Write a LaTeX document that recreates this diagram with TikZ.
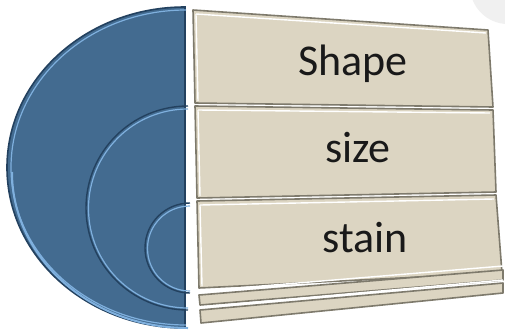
\documentclass[tikz,border=0pt]{standalone}
\usepackage{fontspec}
\setmainfont{Carlito}
\definecolor{discblue}{HTML}{436B90}
\definecolor{discdark}{HTML}{23415F}
\definecolor{disclight}{HTML}{7FB0DE}
\definecolor{panelfill}{HTML}{DCD5C2}
\definecolor{paneldark}{HTML}{7E7A6C}
\tikzset{
  panel/.style={fill=panelfill,draw=paneldark,line width=1.6pt,line join=round},
  glint/.style={white,line width=1.4pt},
  groove/.style={discdark,line width=1.4pt},
  ridge/.style={disclight,line width=1.2pt},
  label/.style={font=\fontsize{44}{50}\selectfont,text=black!90,anchor=base}
}
\begin{document}
\begin{tikzpicture}[x=1pt,y=-1pt]
        \useasboundingbox (0,0) rectangle (505,330);
        \clip (0,0) rectangle (505,330);
        \fill[white] (0,0) rectangle (505,330);

        % faint circle in the corner
        \fill[black!6] (508,-14) circle (38);

        % draw the half disc
        \filldraw[discblue,draw=discdark,line width=1.6pt]
            (185,7)
            arc[start angle=270,end angle=90,x radius=178,y radius=160.5]
            -- cycle;
        \draw[ridge]
            (186,10)
            arc[start angle=270,end angle=90,x radius=175,y radius=157.5];
        \draw[disclight,line width=2pt]
            (12,172)
            arc[start angle=180,end angle=90,x radius=176,y radius=156];

        % draw the inner arcs
        \draw[groove]
            (188,106)
            arc[start angle=270,end angle=90,radius=102];
        \draw[ridge]
            (188,109)
            arc[start angle=270,end angle=90,radius=99.5];
        \draw[groove]
            (190,203)
            arc[start angle=270,end angle=90,radius=45];
        \draw[ridge]
            (190,206)
            arc[start angle=270,end angle=90,radius=42.5];

        % draw the panels
        \filldraw[panel]
            (193,10) -- (488,30) -- (493,107) -- (195,103) -- cycle;
        \draw[glint] (196,14) -- (486,33);
        \draw[glint] (196,14) -- (198,101);
        \filldraw[panel]
            (195,106) -- (493,110) -- (496,192) -- (197,198) -- cycle;
        \draw[glint] (198,110) -- (490,113);
        \draw[glint] (198,110) -- (200,196);
        \filldraw[panel]
            (197,201) -- (496,195) -- (502,273) -- (199,288) -- cycle;
        \draw[glint] (200,205) -- (494,199);
        \draw[glint] (200,205) -- (202,286);
        \filldraw[panel]
            (199,295) -- (503,270) -- (503,280) -- (200,305) -- cycle;
        \draw[glint] (201,291) -- (503,266);
        \filldraw[panel]
            (200,310) -- (503,283) -- (503,293) -- (201,323) -- cycle;
        \draw[glint] (202,307) -- (503,280);

        % edge between disc and panels
        \draw[white,line width=2pt] (190,8) -- (197,328);

        % labels
        \node[label] (shape) at (353,75) {Shape};
        \node[label] (size) at (358,162) {size};
        \node[label] (stain) at (365,252) {stain};
\end{tikzpicture}
\end{document}
